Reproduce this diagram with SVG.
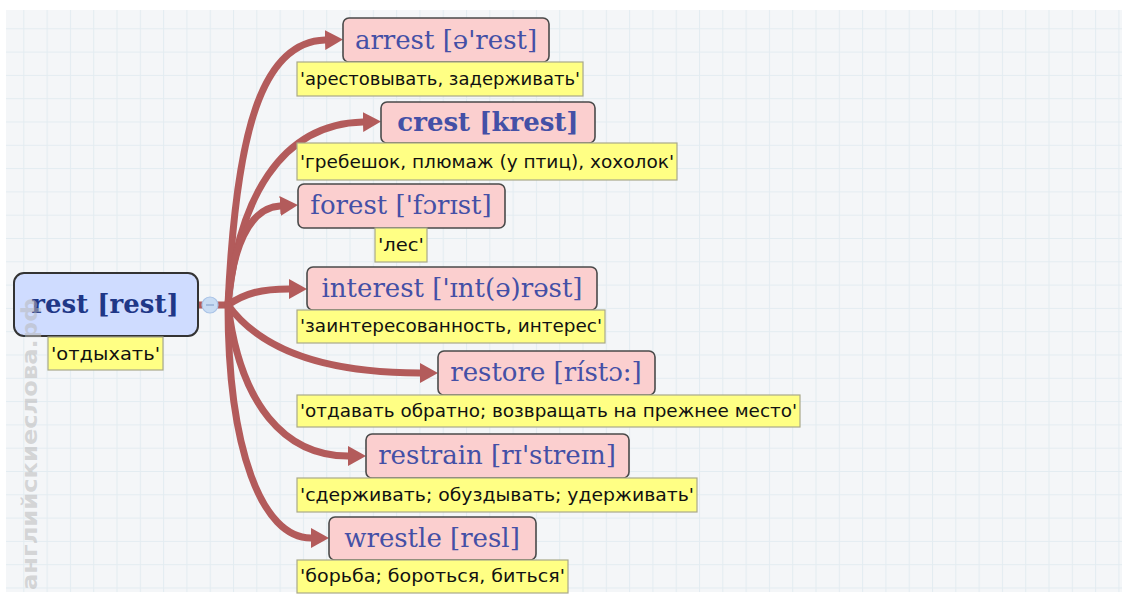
<svg xmlns="http://www.w3.org/2000/svg" width="1128" height="599" viewBox="0 0 1128 599">
<style>
.node rect.box{fill:#fbcfcf;stroke:#4a4a4a;stroke-width:1.6}
.node text.word{font-family:"DejaVu Serif",serif;font-size:26px;fill:#4450a6;text-anchor:middle}
.lab rect{fill:#ffff84;stroke:#a9a98a;stroke-width:1.2}
.lab text{font-family:"DejaVu Sans",sans-serif;font-size:17px;fill:#111}
.conn path{fill:none;stroke:#b35b5b;stroke-width:7;stroke-linecap:round}
</style>
<defs>
<pattern id="grid" patternUnits="userSpaceOnUse" x="0" y="5" width="23.3" height="23.3">
<rect width="23.3" height="23.3" fill="#f4f6f8"/>
<path d="M0,0 H23.3 M0,0 V23.3" stroke="#e3ecf1" stroke-width="2" fill="none"/>
</pattern>
<marker id="arr" viewBox="0 0 10 10" refX="0" refY="5" markerWidth="18" markerHeight="20" markerUnits="userSpaceOnUse" orient="auto" preserveAspectRatio="none">
<path d="M0,0 L10,5 L0,10 z" fill="#b35b5b"/>
</marker>
</defs>
<rect width="1128" height="599" fill="#ffffff"/>
<rect x="6" y="10" width="1116" height="582" fill="url(#grid)"/>

<g id="connectors" class="conn">
<path d="M197,305 H228"/>
<path d="M228,305 C236,130 262,42 325,40" marker-end="url(#arr)"/>
<path d="M228,305 C238,200 280,124 363,122" marker-end="url(#arr)"/>
<path d="M228,305 C232,250 248,208 280,206" marker-end="url(#arr)"/>
<path d="M228,305 C245,293 262,289 289,289" marker-end="url(#arr)"/>
<path d="M228,305 C262,352 330,373 420,373" marker-end="url(#arr)"/>
<path d="M228,305 C240,405 285,456 348,456" marker-end="url(#arr)"/>
<path d="M228,305 C228,450 262,538 311,538" marker-end="url(#arr)"/>
</g>

<g id="collapse">
<circle cx="210" cy="305" r="8" fill="#c9dcf3" stroke="#a9c3e6" stroke-width="1.2"/>
<path d="M206,305 H214" stroke="#8aa6cf" stroke-width="1.2"/>
</g>

<g id="node-rest" class="node">
<rect x="14" y="273" width="184" height="63" rx="10" fill="#cfdcff" stroke="#333" stroke-width="2"/>
<text x="105" y="313" font-family="DejaVu Serif, serif" font-size="26" font-weight="bold" fill="#1f3787" text-anchor="middle">rest [rest]</text>
<g class="lab"><rect x="48" y="337" width="115" height="33"/><text x="51" y="360" textLength="109" lengthAdjust="spacingAndGlyphs">'отдыхать'</text></g>
</g>

<g id="node-arrest" class="node">
<rect class="box" x="343" y="18" width="206" height="44" rx="6"/>
<text class="word" x="446" y="49">arrest [ə'rest]</text>
<g class="lab"><rect x="297" y="62" width="286" height="34"/><text x="300" y="85" textLength="280" lengthAdjust="spacingAndGlyphs">'арестовывать, задерживать'</text></g>
</g>

<g id="node-crest" class="node">
<rect class="box" x="381" y="102" width="214" height="41" rx="6"/>
<text class="word" x="488" y="131" font-weight="bold" fill="#1f3787">crest [krest]</text>
<g class="lab"><rect x="297" y="143" width="380" height="37"/><text x="300" y="168" textLength="374" lengthAdjust="spacingAndGlyphs">'гребешок, плюмаж (у птиц), хохолок'</text></g>
</g>

<g id="node-forest" class="node">
<rect class="box" x="298" y="184" width="207" height="44" rx="6"/>
<text class="word" x="401" y="214">forest ['fɔrɪst]</text>
<g class="lab"><rect x="375" y="228" width="52" height="34"/><text x="378" y="251" textLength="46" lengthAdjust="spacingAndGlyphs">'лес'</text></g>
</g>

<g id="node-interest" class="node">
<rect class="box" x="307" y="267" width="290" height="43" rx="6"/>
<text class="word" x="452" y="297">interest ['ɪnt(ə)rəst]</text>
<g class="lab"><rect x="297" y="310" width="308" height="33"/><text x="300" y="332" textLength="302" lengthAdjust="spacingAndGlyphs">'заинтересованность, интерес'</text></g>
</g>

<g id="node-restore" class="node">
<rect class="box" x="438" y="351" width="217" height="44" rx="6"/>
<text class="word" x="546" y="381">restore [rístɔ:]</text>
<g class="lab"><rect x="297" y="395" width="503" height="32"/><text x="300" y="417" textLength="497" lengthAdjust="spacingAndGlyphs">'отдавать обратно; возвращать на прежнее место'</text></g>
</g>

<g id="node-restrain" class="node">
<rect class="box" x="366" y="434" width="263" height="44" rx="6"/>
<text class="word" x="497" y="464">restrain [rɪ'streɪn]</text>
<g class="lab"><rect x="297" y="478" width="400" height="34"/><text x="300" y="501" textLength="394" lengthAdjust="spacingAndGlyphs">'сдерживать; обуздывать; удерживать'</text></g>
</g>

<g id="node-wrestle" class="node">
<rect class="box" x="329" y="517" width="207" height="43" rx="6"/>
<text class="word" x="432" y="547">wrestle [resl]</text>
<g class="lab"><rect x="297" y="560" width="271" height="33"/><text x="300" y="582" textLength="265" lengthAdjust="spacingAndGlyphs">'борьба; бороться, биться'</text></g>
</g>

<text transform="translate(37,590) rotate(-90)" font-family="DejaVu Sans, sans-serif" font-size="22" font-weight="bold" fill="#b8b8b8" fill-opacity="0.55" textLength="292" lengthAdjust="spacingAndGlyphs">английскиеслова.рф</text>
</svg>
